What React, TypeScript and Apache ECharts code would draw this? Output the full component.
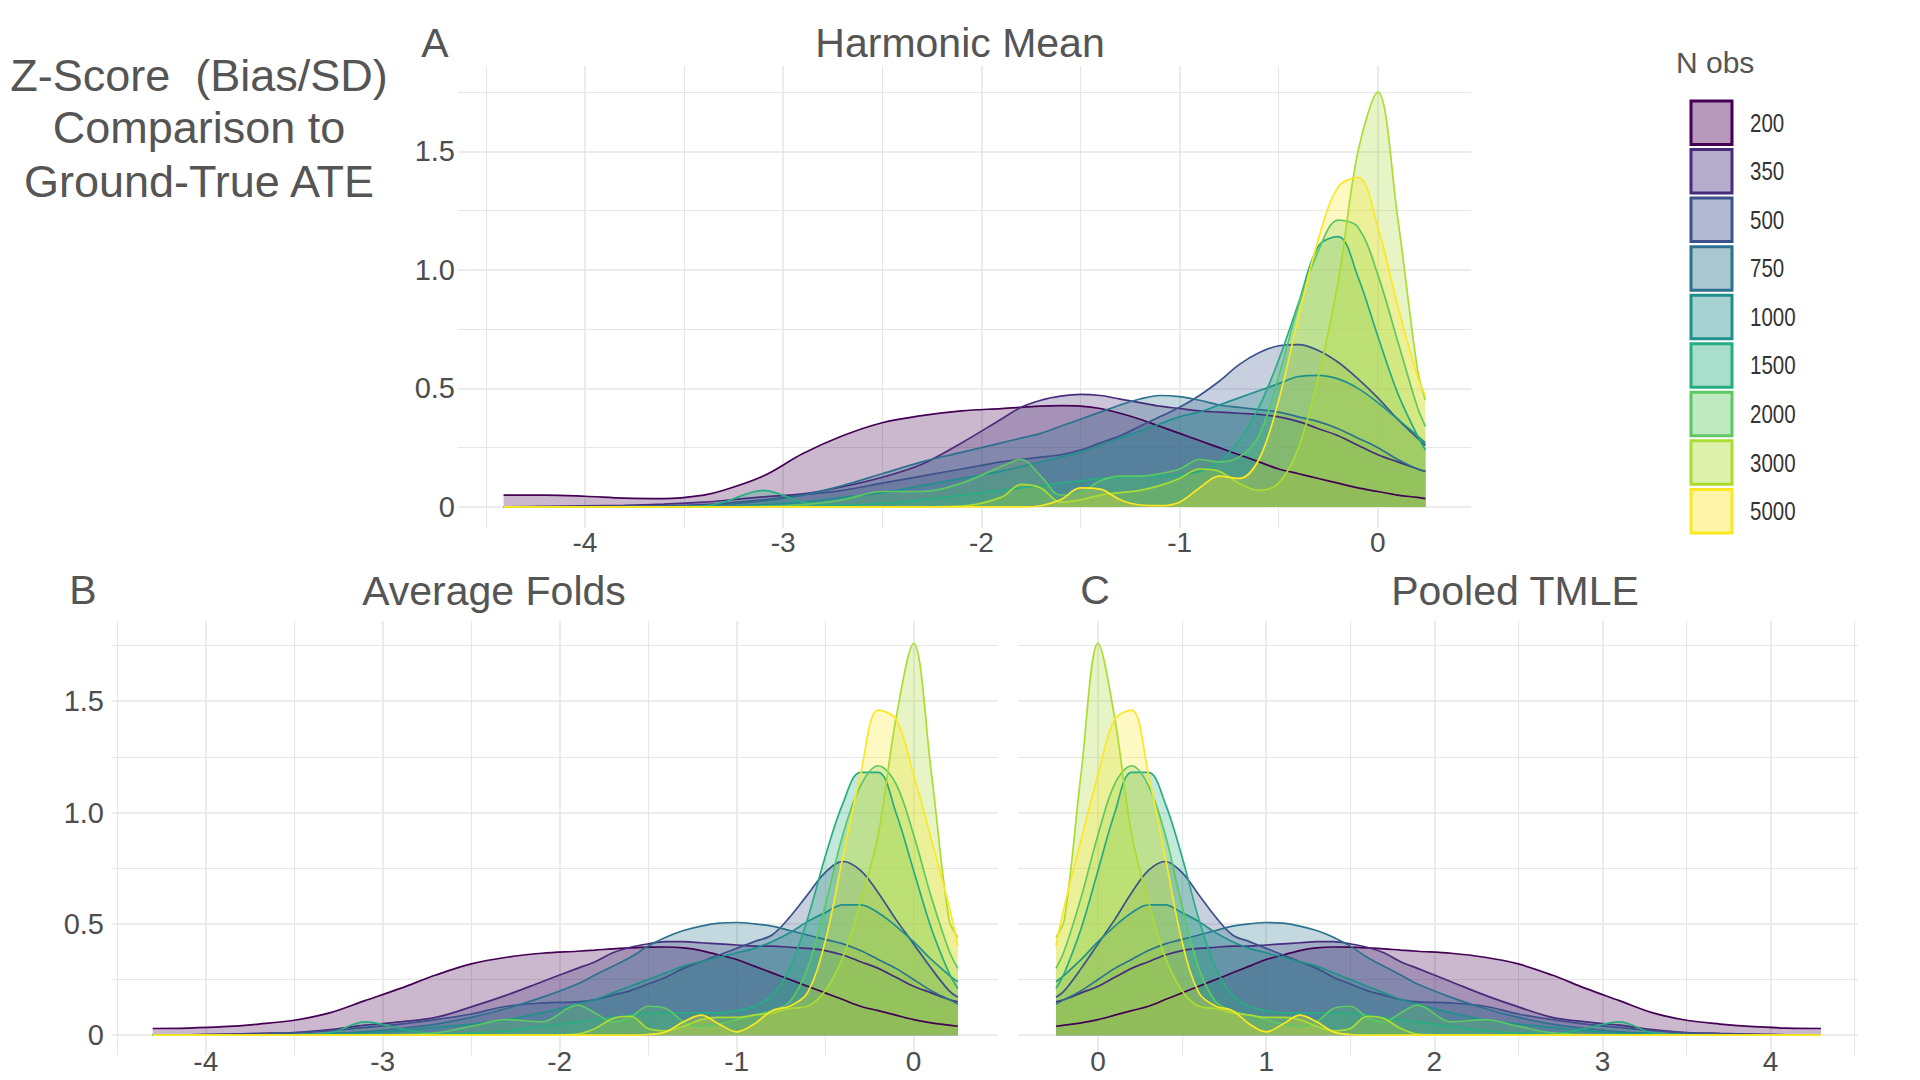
import React, { useEffect, useRef } from "react";
import * as echarts from "echarts";

// ---------- categories / styling keys ----------
const N_OBS = ["200", "350", "500", "750", "1000", "1500", "2000", "3000", "5000"];
const COLORS = ["#440154", "#472D7B", "#3B528B", "#2C728E", "#21908C", "#27AD81", "#5DC863", "#AADC32", "#FDE725"];
const PANEL_TAGS = ["A", "B", "C"];
const PANEL_TITLES = ["Harmonic Mean", "Average Folds", "Pooled TMLE"];
const LEFT_TITLE = ["Z-Score  (Bias/SD)", "Comparison to", "Ground-True ATE"];
const LEGEND_TITLE = "N obs";

// ---------- tick values ----------
const X_LABELS_A = [-4, -3, -2, -1, 0];
const X_MAJOR_A = [-4, -3, -2, -1, 0];
const X_MINOR_A = [-4.5, -3.5, -2.5, -1.5, -0.5];
const X_LABELS_B = [-4, -3, -2, -1, 0];
const X_MAJOR_B = [-4, -3, -2, -1, 0];
const X_MINOR_B = [-4.5, -3.5, -2.5, -1.5, -0.5];
const X_LABELS_C = [0, 1, 2, 3, 4];
const X_MAJOR_C = [0, 1, 2, 3, 4];
const X_MINOR_C = [0.5, 1.5, 2.5, 3.5, 4.5];
const Y_LABELS = [0, 0.5, 1, 1.5];
const Y_MAJOR = [0, 0.5, 1, 1.5];
const Y_MINOR = [0.25, 0.75, 1.25, 1.75];

// ---------- Panel A: Harmonic Mean ----------
const XS_A = [-4.41, -4.2, -4.0, -3.8, -3.6, -3.4, -3.3, -3.1, -2.9, -2.7, -2.5, -2.3, -2.1, -1.9, -1.8, -1.7, -1.6, -1.5, -1.4, -1.3, -1.2, -1.1, -1.0, -0.9, -0.8, -0.7, -0.6, -0.5, -0.4, -0.3, -0.2, -0.1, 0.0, 0.1, 0.2, 0.24];
const A_200 = [0.05, 0.05, 0.045, 0.037, 0.035, 0.05, 0.07, 0.13, 0.225, 0.3, 0.355, 0.385, 0.405, 0.415, 0.42, 0.425, 0.427, 0.425, 0.415, 0.395, 0.37, 0.34, 0.31, 0.28, 0.25, 0.22, 0.19, 0.16, 0.14, 0.12, 0.1, 0.08, 0.065, 0.05, 0.04, 0.035];
const A_350 = [0, 0.002, 0.004, 0.007, 0.012, 0.02, 0.027, 0.042, 0.055, 0.085, 0.125, 0.18, 0.27, 0.37, 0.42, 0.45, 0.467, 0.475, 0.47, 0.455, 0.44, 0.425, 0.415, 0.405, 0.4, 0.395, 0.39, 0.38, 0.36, 0.33, 0.3, 0.26, 0.22, 0.19, 0.16, 0.15];
const A_500 = [0, 0, 0.001, 0.003, 0.005, 0.01, 0.015, 0.03, 0.05, 0.07, 0.1, 0.13, 0.16, 0.19, 0.2, 0.21, 0.22, 0.24, 0.27, 0.3, 0.34, 0.38, 0.42, 0.47, 0.53, 0.6, 0.65, 0.68, 0.685, 0.66, 0.61, 0.54, 0.46, 0.37, 0.29, 0.26];
const A_750 = [0, 0, 0, 0, 0.002, 0.005, 0.01, 0.025, 0.05, 0.09, 0.14, 0.19, 0.23, 0.27, 0.29, 0.31, 0.34, 0.37, 0.4, 0.43, 0.455, 0.47, 0.465, 0.45, 0.43, 0.42, 0.41, 0.4, 0.38, 0.36, 0.33, 0.29, 0.25, 0.2, 0.16, 0.15];
const A_1000 = [0, 0, 0, 0, 0, 0, 0.002, 0.01, 0.02, 0.04, 0.06, 0.09, 0.12, 0.15, 0.17, 0.19, 0.21, 0.23, 0.26, 0.29, 0.32, 0.35, 0.38, 0.4, 0.43, 0.46, 0.49, 0.52, 0.55, 0.555, 0.54, 0.5, 0.44, 0.37, 0.3, 0.27];
const A_1500 = [0, 0, 0, 0, 0, 0.003, 0.02, 0.07, 0.02, 0.008, 0.015, 0.03, 0.05, 0.07, 0.08, 0.09, 0.1, 0.11, 0.12, 0.125, 0.13, 0.13, 0.135, 0.15, 0.19, 0.28, 0.42, 0.62, 0.86, 1.1, 1.14, 0.97, 0.72, 0.48, 0.3, 0.24];
const A_2000 = [0, 0, 0, 0, 0, 0, 0, 0.002, 0.01, 0.03, 0.065, 0.065, 0.1, 0.17, 0.2, 0.13, 0.05, 0.06, 0.11, 0.13, 0.13, 0.14, 0.16, 0.2, 0.19, 0.21, 0.3, 0.55, 0.85, 1.08, 1.21, 1.18, 0.98, 0.7, 0.42, 0.34];
const A_3000 = [0, 0, 0, 0, 0, 0, 0, 0, 0, 0, 0, 0, 0.003, 0.04, 0.095, 0.08, 0.02, 0.03, 0.05, 0.06, 0.07, 0.09, 0.12, 0.16, 0.15, 0.1, 0.07, 0.1, 0.25, 0.55, 0.95, 1.5, 1.75, 1.22, 0.58, 0.45];
const A_5000 = [0, 0, 0, 0, 0, 0, 0, 0, 0, 0, 0, 0, 0, 0, 0, 0.005, 0.03, 0.08, 0.075, 0.03, 0.008, 0.005, 0.02, 0.08, 0.13, 0.12, 0.2, 0.45, 0.8, 1.13, 1.35, 1.39, 1.18, 0.85, 0.55, 0.47];

// ---------- Panel B: Average Folds ----------
const XS_B = [-4.3, -4.1, -3.9, -3.7, -3.5, -3.3, -3.1, -2.9, -2.7, -2.5, -2.3, -2.1, -1.9, -1.8, -1.7, -1.6, -1.5, -1.4, -1.3, -1.2, -1.1, -1.0, -0.9, -0.8, -0.7, -0.6, -0.5, -0.4, -0.3, -0.2, -0.1, 0.0, 0.1, 0.2, 0.25];
const B_200 = [0.03, 0.032, 0.038, 0.05, 0.067, 0.1, 0.155, 0.21, 0.27, 0.32, 0.35, 0.368, 0.377, 0.382, 0.388, 0.392, 0.395, 0.396, 0.392, 0.38, 0.36, 0.34, 0.31, 0.28, 0.25, 0.22, 0.19, 0.16, 0.13, 0.11, 0.09, 0.07, 0.055, 0.045, 0.04];
const B_350 = [0, 0.002, 0.005, 0.008, 0.012, 0.025, 0.045, 0.06, 0.08, 0.127, 0.18, 0.24, 0.3, 0.33, 0.37, 0.395, 0.41, 0.42, 0.42, 0.415, 0.41, 0.405, 0.4, 0.4, 0.395, 0.39, 0.38, 0.36, 0.33, 0.3, 0.26, 0.22, 0.19, 0.16, 0.15];
const B_500 = [0, 0, 0.002, 0.005, 0.01, 0.02, 0.035, 0.05, 0.07, 0.095, 0.13, 0.145, 0.15, 0.16, 0.18, 0.2, 0.23, 0.26, 0.3, 0.33, 0.36, 0.39, 0.42, 0.45, 0.53, 0.63, 0.73, 0.78, 0.74, 0.64, 0.52, 0.41, 0.3, 0.2, 0.17];
const B_750 = [0, 0, 0, 0.002, 0.003, 0.008, 0.015, 0.03, 0.05, 0.08, 0.12, 0.17, 0.23, 0.27, 0.31, 0.35, 0.4, 0.44, 0.47, 0.49, 0.503, 0.506, 0.5, 0.49, 0.47, 0.45, 0.43, 0.41, 0.38, 0.34, 0.3, 0.25, 0.2, 0.16, 0.14];
const B_1000 = [0, 0, 0, 0, 0.002, 0.005, 0.01, 0.02, 0.035, 0.05, 0.07, 0.1, 0.14, 0.16, 0.19, 0.22, 0.25, 0.28, 0.31, 0.33, 0.35, 0.37, 0.39, 0.42, 0.46, 0.51, 0.55, 0.585, 0.585, 0.55, 0.49, 0.42, 0.34, 0.27, 0.24];
const B_1500 = [0, 0, 0, 0, 0.002, 0.01, 0.06, 0.03, 0.005, 0.01, 0.02, 0.04, 0.06, 0.07, 0.08, 0.09, 0.1, 0.1, 0.1, 0.1, 0.1, 0.11, 0.13, 0.18, 0.3, 0.52, 0.8, 1.04, 1.18, 1.18, 1.0, 0.74, 0.48, 0.28, 0.21];
const B_2000 = [0, 0, 0, 0, 0, 0, 0.001, 0.003, 0.01, 0.04, 0.07, 0.06, 0.135, 0.1, 0.06, 0.08, 0.13, 0.12, 0.06, 0.04, 0.05, 0.07, 0.09, 0.11, 0.15, 0.3, 0.58, 0.9, 1.12, 1.21, 1.13, 0.9, 0.62, 0.38, 0.3];
const B_3000 = [0, 0, 0, 0, 0, 0, 0, 0, 0, 0, 0, 0, 0.005, 0.03, 0.075, 0.085, 0.03, 0.02, 0.04, 0.07, 0.08, 0.08, 0.09, 0.1, 0.12, 0.13, 0.2, 0.35, 0.6, 0.9, 1.42, 1.76, 1.18, 0.52, 0.44];
const B_5000 = [0, 0, 0, 0, 0, 0, 0, 0, 0, 0, 0, 0, 0, 0, 0, 0, 0.003, 0.015, 0.06, 0.09, 0.05, 0.015, 0.05, 0.11, 0.13, 0.19, 0.42, 0.8, 1.17, 1.46, 1.42, 1.17, 0.88, 0.58, 0.4];

// ---------- Panel C: Pooled TMLE ----------
const XS_C = [-0.25, -0.2, -0.1, 0.0, 0.1, 0.2, 0.3, 0.4, 0.5, 0.6, 0.7, 0.8, 0.9, 1.0, 1.1, 1.2, 1.3, 1.4, 1.5, 1.6, 1.7, 1.8, 1.9, 2.1, 2.3, 2.5, 2.7, 2.9, 3.1, 3.3, 3.5, 3.7, 3.9, 4.1, 4.3];
const C_200 = [0.04, 0.045, 0.055, 0.07, 0.09, 0.11, 0.13, 0.16, 0.19, 0.22, 0.25, 0.28, 0.31, 0.34, 0.36, 0.38, 0.392, 0.396, 0.395, 0.392, 0.388, 0.382, 0.377, 0.368, 0.35, 0.32, 0.27, 0.21, 0.155, 0.1, 0.067, 0.05, 0.038, 0.032, 0.03];
const C_350 = [0.15, 0.16, 0.19, 0.22, 0.26, 0.3, 0.33, 0.36, 0.38, 0.39, 0.395, 0.4, 0.4, 0.405, 0.41, 0.415, 0.42, 0.42, 0.41, 0.395, 0.37, 0.33, 0.3, 0.24, 0.18, 0.127, 0.08, 0.06, 0.045, 0.025, 0.012, 0.008, 0.005, 0.002, 0];
const C_500 = [0.17, 0.2, 0.3, 0.41, 0.52, 0.64, 0.74, 0.78, 0.73, 0.63, 0.53, 0.45, 0.42, 0.39, 0.36, 0.33, 0.3, 0.26, 0.23, 0.2, 0.18, 0.16, 0.15, 0.145, 0.13, 0.095, 0.07, 0.05, 0.035, 0.02, 0.01, 0.005, 0.002, 0, 0];
const C_750 = [0.14, 0.16, 0.2, 0.25, 0.3, 0.34, 0.38, 0.41, 0.43, 0.45, 0.47, 0.49, 0.5, 0.506, 0.503, 0.49, 0.47, 0.44, 0.4, 0.35, 0.31, 0.27, 0.23, 0.17, 0.12, 0.08, 0.05, 0.03, 0.015, 0.008, 0.003, 0.002, 0, 0, 0];
const C_1000 = [0.24, 0.27, 0.34, 0.42, 0.49, 0.55, 0.585, 0.585, 0.55, 0.51, 0.46, 0.42, 0.39, 0.37, 0.35, 0.33, 0.31, 0.28, 0.25, 0.22, 0.19, 0.16, 0.14, 0.1, 0.07, 0.05, 0.035, 0.02, 0.01, 0.005, 0.002, 0, 0, 0, 0];
const C_1500 = [0.21, 0.28, 0.48, 0.74, 1.0, 1.18, 1.18, 1.04, 0.8, 0.52, 0.3, 0.18, 0.13, 0.11, 0.1, 0.1, 0.1, 0.1, 0.1, 0.09, 0.08, 0.07, 0.06, 0.04, 0.02, 0.01, 0.005, 0.03, 0.06, 0.01, 0.002, 0, 0, 0, 0];
const C_2000 = [0.3, 0.38, 0.62, 0.9, 1.13, 1.21, 1.12, 0.9, 0.58, 0.3, 0.15, 0.11, 0.09, 0.07, 0.05, 0.04, 0.06, 0.12, 0.13, 0.08, 0.06, 0.1, 0.135, 0.06, 0.07, 0.04, 0.01, 0.003, 0.001, 0, 0, 0, 0, 0, 0];
const C_3000 = [0.44, 0.52, 1.18, 1.76, 1.42, 0.9, 0.6, 0.35, 0.2, 0.13, 0.12, 0.1, 0.09, 0.08, 0.08, 0.07, 0.04, 0.02, 0.03, 0.085, 0.075, 0.03, 0.005, 0, 0, 0, 0, 0, 0, 0, 0, 0, 0, 0, 0];
const C_5000 = [0.4, 0.58, 0.88, 1.17, 1.42, 1.46, 1.17, 0.8, 0.42, 0.19, 0.13, 0.11, 0.05, 0.015, 0.05, 0.09, 0.06, 0.015, 0.003, 0, 0, 0, 0, 0, 0, 0, 0, 0, 0, 0, 0, 0, 0, 0, 0];

const FONT = "'Liberation Sans', Arial, Helvetica, sans-serif";
const TEXT_GREY = "#555555";
const AXIS_GREY = "#4D4D4D";
const GRID_COLOR = "#E6E6E6";

function hexToRgba(hex: string, a: number) {
  const n = parseInt(hex.slice(1), 16);
  return `rgba(${(n >> 16) & 255},${(n >> 8) & 255},${n & 255},${a})`;
}

function makeXAxes(gridIndex: number, min: number, max: number, labels: number[], major: number[], minor: number[], margin: number) {
  return [
    {
      type: "value", gridIndex, min, max, position: "bottom",
      axisLine: { show: false },
      axisTick: { show: false, customValues: major },
      axisLabel: {
        customValues: labels, margin, fontSize: 28, lineHeight: 28, color: AXIS_GREY, fontFamily: FONT,
        formatter: (v: number) => String(v),
      },
      splitLine: { show: true, lineStyle: { color: GRID_COLOR, width: 1.6 } },
    },
    {
      type: "value", gridIndex, min, max, position: "top",
      axisLine: { show: false },
      axisTick: { show: false, customValues: minor },
      axisLabel: { show: false },
      splitLine: { show: true, lineStyle: { color: GRID_COLOR, width: 1 } },
    },
  ];
}

function makeYAxes(gridIndex: number, showLabels: boolean, margin: number) {
  return [
    {
      type: "value", gridIndex, min: -0.089, max: 1.86, position: "left",
      axisLine: { show: false },
      axisTick: { show: false, customValues: Y_MAJOR },
      axisLabel: {
        show: showLabels, customValues: Y_LABELS, margin, fontSize: 29, color: AXIS_GREY, fontFamily: FONT,
        formatter: (v: number) => (v === 0 ? "0" : v.toFixed(1)),
      },
      splitLine: { show: true, lineStyle: { color: GRID_COLOR, width: 1.6 } },
    },
    {
      type: "value", gridIndex, min: -0.089, max: 1.86, position: "right",
      axisLine: { show: false },
      axisTick: { show: false, customValues: Y_MINOR },
      axisLabel: { show: false },
      splitLine: { show: true, lineStyle: { color: GRID_COLOR, width: 1 } },
    },
  ];
}

function buildOption() {
  const panels = [
    { xs: XS_A, data: [A_200, A_350, A_500, A_750, A_1000, A_1500, A_2000, A_3000, A_5000] },
    { xs: XS_B, data: [B_200, B_350, B_500, B_750, B_1000, B_1500, B_2000, B_3000, B_5000] },
    { xs: XS_C, data: [C_200, C_350, C_500, C_750, C_1000, C_1500, C_2000, C_3000, C_5000] },
  ];

  const series: any[] = [];
  panels.forEach((p, pi) => {
    p.data.forEach((ys, si) => {
      series.push({
        type: "line",
        name: N_OBS[si],
        xAxisIndex: pi * 2,
        yAxisIndex: pi * 2,
        data: p.xs.map((x, i) => [x, ys[i]]),
        smooth: 0.35,
        symbol: "none",
        showSymbol: false,
        silent: true,
        lineStyle: { color: COLORS[si], width: 1.7 },
        itemStyle: { color: COLORS[si] },
        areaStyle: { color: hexToRgba(COLORS[si], 0.4) },
      });
    });
  });

  const graphics: any[] = [];
  // left overall title
  const leftY = [75, 127, 181];
  LEFT_TITLE.forEach((t, i) => {
    graphics.push({
      type: "text", x: 199, y: leftY[i],
      style: { text: t, fontSize: 45, fontFamily: FONT, fill: TEXT_GREY, textAlign: "center", textVerticalAlign: "middle" },
    });
  });
  // panel tags and titles
  const tagPos = [[435, 43], [83, 590], [1095, 590]];
  const titlePos = [[960, 43], [494, 591], [1515, 591]];
  PANEL_TAGS.forEach((t, i) => {
    graphics.push({
      type: "text", x: tagPos[i][0], y: tagPos[i][1],
      style: { text: t, fontSize: 41, fontFamily: FONT, fill: TEXT_GREY, textAlign: "center", textVerticalAlign: "middle" },
    });
    graphics.push({
      type: "text", x: titlePos[i][0], y: titlePos[i][1],
      style: { text: PANEL_TITLES[i], fontSize: 41, fontFamily: FONT, fill: TEXT_GREY, textAlign: "center", textVerticalAlign: "middle" },
    });
  });
  // legend
  graphics.push({
    type: "text", x: 1676, y: 62,
    style: { text: LEGEND_TITLE, fontSize: 30, fontFamily: FONT, fill: TEXT_GREY, textAlign: "left", textVerticalAlign: "middle" },
  });
  const pitch = 48.55;
  N_OBS.forEach((n, i) => {
    const top = 101 + i * pitch;
    graphics.push({
      type: "rect",
      shape: { x: 1691, y: top, width: 41, height: 43.5 },
      style: { fill: hexToRgba(COLORS[i], 0.4), stroke: COLORS[i], lineWidth: 3 },
    });
    graphics.push({
      type: "text", x: 1750, y: top + 22, scaleX: 0.82,
      style: { text: n, fontSize: 25, fontFamily: FONT, fill: "#333333", textAlign: "left", textVerticalAlign: "middle" },
    });
  });

  return {
    animation: false,
    backgroundColor: "#ffffff",
    textStyle: { fontFamily: FONT },
    grid: [
      { left: 458, top: 66, width: 1013, height: 462, containLabel: false, outerBoundsMode: "none" },
      { left: 112, top: 621, width: 886, height: 434, containLabel: false, outerBoundsMode: "none" },
      { left: 1018, top: 621, width: 840, height: 434, containLabel: false, outerBoundsMode: "none" },
    ],
    xAxis: [
      ...makeXAxes(0, -4.64, 0.47, X_LABELS_A, X_MAJOR_A, X_MINOR_A, 0),
      ...makeXAxes(1, -4.53, 0.477, X_LABELS_B, X_MAJOR_B, X_MINOR_B, -8),
      ...makeXAxes(2, -0.476, 4.52, X_LABELS_C, X_MAJOR_C, X_MINOR_C, -8),
    ],
    yAxis: [
      ...makeYAxes(0, true, 3),
      ...makeYAxes(1, true, 8),
      ...makeYAxes(2, false, 8),
    ],
    series,
    graphic: graphics,
  };
}

export default function App() {
  const ref = useRef<HTMLDivElement>(null);
  useEffect(() => {
    document.body.style.margin = "0";
    document.body.style.overflow = "hidden";
    const chart = echarts.init(ref.current as HTMLDivElement, null, { renderer: "svg", width: 1920, height: 1080 });
    chart.setOption(buildOption() as any);
    return () => chart.dispose();
  }, []);
  return <div ref={ref} style={{ width: 1920, height: 1080, background: "#fff" }} />;
}
